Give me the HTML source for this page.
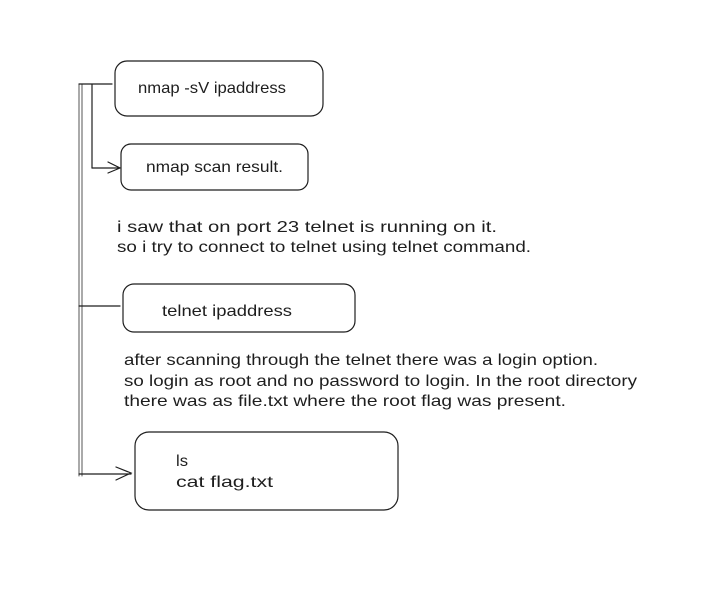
<!DOCTYPE html>
<html><head><style>
body{margin:0;background:#fff;width:708px;height:584px;overflow:hidden}
svg text{font-family:"Liberation Sans",sans-serif;fill:#1e1e1e}
</style></head><body>
<svg width="708" height="584" viewBox="0 0 708 584" xmlns="http://www.w3.org/2000/svg">
<g fill="none" stroke="#1e1e1e" stroke-width="1.2" stroke-linecap="round">
<rect x="115" y="61" width="208" height="55" rx="12"/>
<rect x="121" y="144" width="187" height="46" rx="10"/>
<rect x="123" y="284" width="232" height="48" rx="11"/>
<rect x="135" y="432" width="263" height="78" rx="14"/>
<path d="M79 84 V476 M82 84 V476" stroke="#555" stroke-width="1"/>
<path d="M79 84 H112 M92 84 V168"/>
<path d="M92 168 H119 M108 162 L120 168 L108 173"/>
<path d="M79 306 H120"/>
<path d="M79 474 H131 M116 467 L131 473 L116 480"/>
</g>
<g font-size="16" lengthAdjust="spacingAndGlyphs">
<text x="138" y="93" textLength="148" lengthAdjust="spacingAndGlyphs">nmap -sV ipaddress</text>
<text x="146" y="172" textLength="137" lengthAdjust="spacingAndGlyphs">nmap scan result.</text>
<text x="117" y="232" textLength="380" lengthAdjust="spacingAndGlyphs">i saw that on port 23 telnet is running on it.</text>
<text x="117" y="252" textLength="414" lengthAdjust="spacingAndGlyphs">so i try to connect to telnet using telnet command.</text>
<text x="162" y="316" textLength="130" lengthAdjust="spacingAndGlyphs">telnet ipaddress</text>
<text x="124" y="365" textLength="474" lengthAdjust="spacingAndGlyphs">after scanning through the telnet there was a login option.</text>
<text x="124" y="386" textLength="513" lengthAdjust="spacingAndGlyphs">so login as root and no password to login. In the root directory</text>
<text x="124" y="406" textLength="442" lengthAdjust="spacingAndGlyphs">there was as file.txt where the root flag was present.</text>
<text x="176" y="466" textLength="12" lengthAdjust="spacingAndGlyphs">ls</text>
<text x="176" y="487" textLength="97" lengthAdjust="spacingAndGlyphs">cat flag.txt</text>
</g>
</svg>
</body></html>
